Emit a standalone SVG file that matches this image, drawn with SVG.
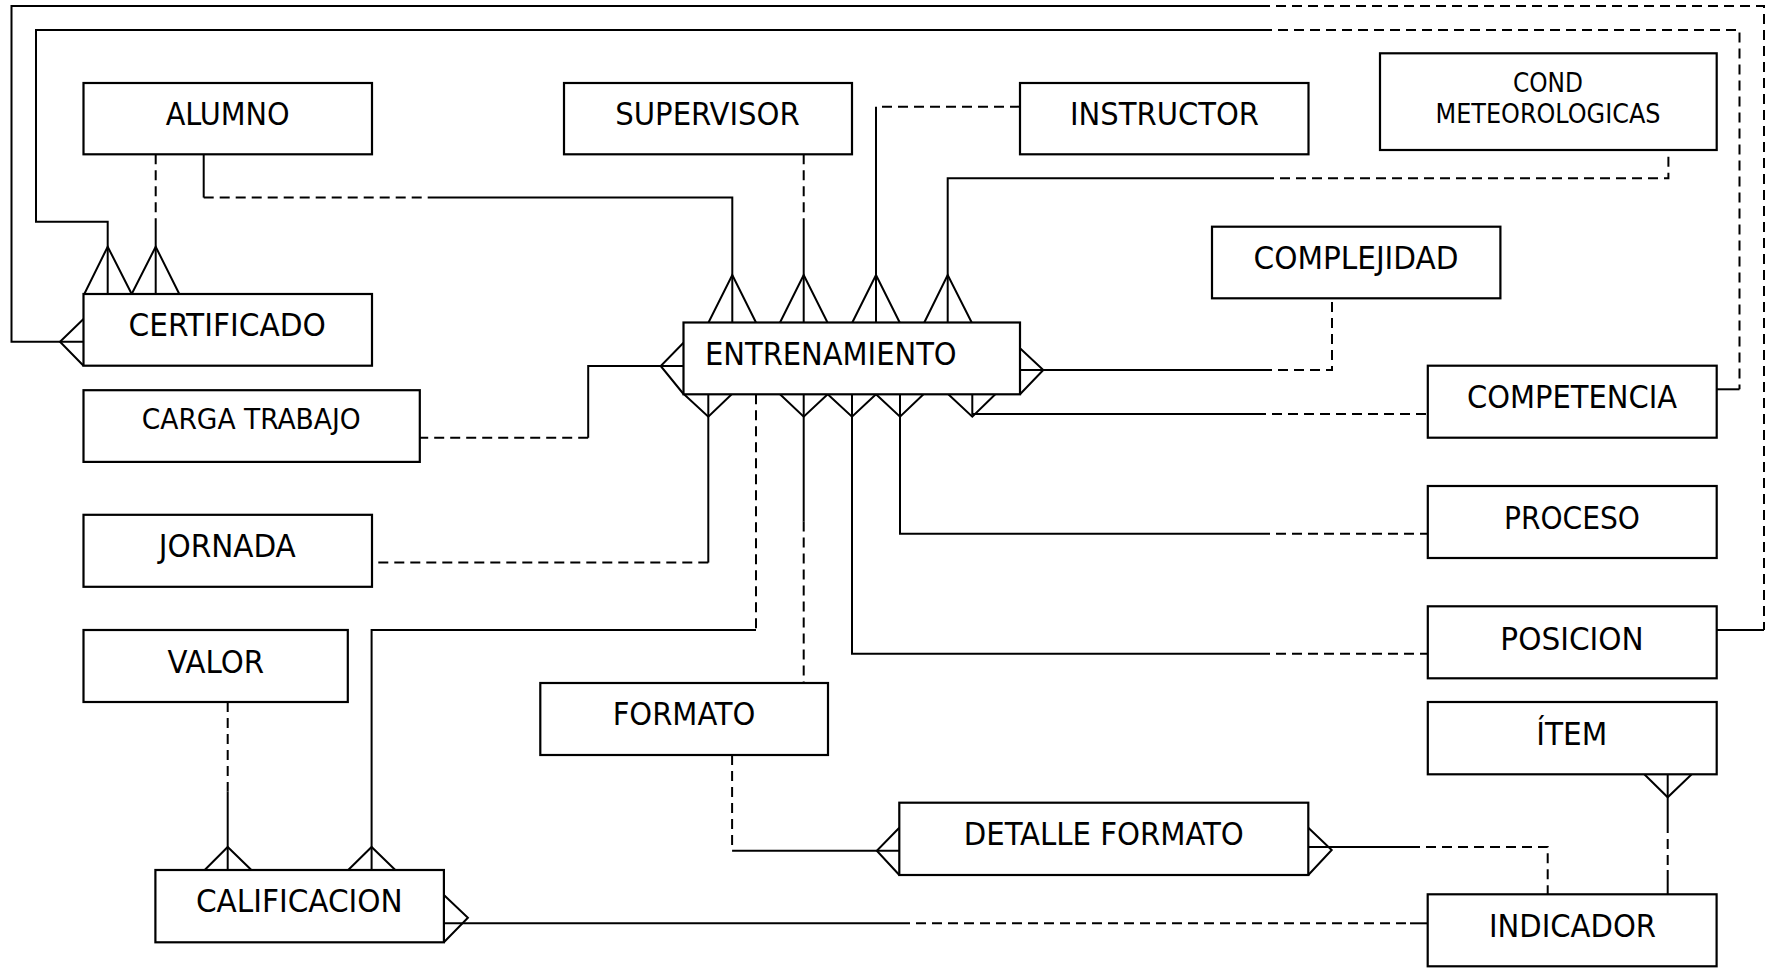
<svg xmlns="http://www.w3.org/2000/svg" width="1776" height="972" viewBox="0 0 1776 972">
  <style>
    .box { fill: #fff; stroke: #000; stroke-width: 2.2; }
    .ln { fill: none; stroke: #000; stroke-width: 2; stroke-linejoin: miter; }
    .dash { stroke-dasharray: 10 6; }
    .lbl { font-family: "DejaVu Sans Condensed", "DejaVu Sans", sans-serif; font-stretch: condensed; font-size: 32px; text-anchor: middle; fill: #000; }
    .sm { font-size: 26px; }
    .md { font-size: 28.5px; }
  </style>
  <rect width="1776" height="972" fill="#fff"/>

  <g id="connectors">
    <!-- CERTIFICADO - POSICION (outer loop) -->
    <path class="ln" d="M83.5,341.7 H11.5 V6 H1260"/>
    <path class="ln dash" d="M1260,6 H1764 V630"/>
    <path class="ln" d="M1764,630 H1716.5"/>
    <path class="ln" d="M83.5,319 L60,341.7 L83.5,365.7"/>

    <!-- CERTIFICADO - COMPETENCIA (inner loop) -->
    <path class="ln" d="M107.7,294 V221.7 H36 V30 H1262"/>
    <path class="ln dash" d="M1262,30 H1739.5 V389.3"/>
    <path class="ln" d="M1739.5,389.3 H1716.5"/>
    <path class="ln" d="M84.3,294 L107.7,246.7 L131.7,294"/>

    <!-- ALUMNO - CERTIFICADO -->
    <path class="ln dash" d="M155.7,154.3 V220"/>
    <path class="ln" d="M155.7,220 V294"/>
    <path class="ln" d="M131.7,294 L155.7,246.7 L179.3,294"/>

    <!-- ALUMNO - ENTRENAMIENTO -->
    <path class="ln" d="M203.7,154.3 V197.6"/>
    <path class="ln dash" d="M203.7,197.6 H436"/>
    <path class="ln" d="M436,197.6 H732.3 V322.5"/>
    <path class="ln" d="M708.5,322.5 L732.3,275 L756,322.5"/>

    <!-- SUPERVISOR - ENTRENAMIENTO -->
    <path class="ln dash" d="M803.7,154.3 V227"/>
    <path class="ln" d="M803.7,227 V322.5"/>
    <path class="ln" d="M780,322.5 L803.7,275 L827.5,322.5"/>

    <!-- INSTRUCTOR - ENTRENAMIENTO -->
    <path class="ln dash" d="M1020,106.7 H876"/>
    <path class="ln" d="M876,106.7 V322.5"/>
    <path class="ln" d="M852.3,322.5 L876,275 L899.7,322.5"/>

    <!-- COND METEOROLOGICAS - ENTRENAMIENTO -->
    <path class="ln" d="M947.7,322.5 V178.3 H1264"/>
    <path class="ln dash" d="M1264,178.3 H1668.4 V152"/>
    <path class="ln" d="M924.3,322.5 L947.7,275 L971.7,322.5"/>

    <!-- COMPLEJIDAD - ENTRENAMIENTO -->
    <path class="ln" d="M1020,348.3 L1043.3,370 L1020,394.3"/>
    <path class="ln" d="M1020,370 H1262"/>
    <path class="ln dash" d="M1262,370 H1332 V298.3"/>

    <!-- CARGA TRABAJO - ENTRENAMIENTO -->
    <path class="ln" d="M683.5,342.7 L660.7,366 L683.5,394"/>
    <path class="ln" d="M683.5,366 H588.2 V437.7"/>
    <path class="ln dash" d="M588.2,437.7 H420"/>

    <!-- JORNADA - ENTRENAMIENTO -->
    <path class="ln" d="M684,394.3 L708.3,416.7 L731.7,394.3"/>
    <path class="ln" d="M708.3,394.3 V562.6"/>
    <path class="ln dash" d="M708.3,562.6 H372"/>

    <!-- CALIFICACION - ENTRENAMIENTO -->
    <path class="ln dash" d="M756,394.3 V629.9"/>
    <path class="ln" d="M756,629.9 H371.6 V870"/>
    <path class="ln" d="M348.2,870 L371.6,847 L395.3,870"/>

    <!-- VALOR - CALIFICACION -->
    <path class="ln dash" d="M227.7,702 V791.5"/>
    <path class="ln" d="M227.7,791.5 V870"/>
    <path class="ln" d="M204.7,870 L227.7,847 L251.4,870"/>

    <!-- FORMATO - ENTRENAMIENTO -->
    <path class="ln" d="M780,394.3 L803.7,416.7 L827.7,394.3"/>
    <path class="ln" d="M803.7,394.3 V521.6"/>
    <path class="ln dash" d="M803.7,521.6 V683"/>

    <!-- POSICION - ENTRENAMIENTO -->
    <path class="ln" d="M827.7,394.3 L852,416.7 L876,394.3"/>
    <path class="ln" d="M852,394.3 V653.7 H1260"/>
    <path class="ln dash" d="M1260,653.7 H1427.8"/>

    <!-- PROCESO - ENTRENAMIENTO -->
    <path class="ln" d="M876,394.3 L900,416.7 L923.5,394.3"/>
    <path class="ln" d="M900,394.3 V533.7 H1260"/>
    <path class="ln dash" d="M1260,533.7 H1427.8"/>

    <!-- COMPETENCIA - ENTRENAMIENTO -->
    <path class="ln" d="M948.3,394.3 L972.3,416.7 L995.3,394.3"/>
    <path class="ln" d="M972.3,394.3 V414 H1256"/>
    <path class="ln dash" d="M1256,414 H1427.8"/>

    <!-- FORMATO - DETALLE FORMATO -->
    <path class="ln dash" d="M732.1,755 V850.7"/>
    <path class="ln" d="M732.1,850.7 H899.3"/>
    <path class="ln" d="M899.3,827.7 L876.8,850.7 L899.3,875"/>

    <!-- DETALLE FORMATO - INDICADOR -->
    <path class="ln" d="M1308.3,827.7 L1331.7,850 L1308.3,875"/>
    <path class="ln" d="M1308.3,847 H1410"/>
    <path class="ln dash" d="M1410,847 H1547.7 V894.3"/>

    <!-- ITEM - INDICADOR -->
    <path class="ln" d="M1644.3,774.3 L1667.7,797.3 L1691.7,774.3"/>
    <path class="ln" d="M1667.7,774.3 V823"/>
    <path class="ln dash" d="M1667.7,823 V870"/>
    <path class="ln" d="M1667.7,870 V894.3"/>

    <!-- CALIFICACION - INDICADOR -->
    <path class="ln" d="M443.9,895 L467.9,917.7 L443.9,942.3"/>
    <path class="ln" d="M443.9,923.3 H900"/>
    <path class="ln dash" d="M900,923.3 H1410"/>
    <path class="ln" d="M1410,923.3 H1427.7"/>
  </g>

  <g id="alumno"><rect class="box" x="83.5" y="83" width="288.5" height="71.3"/><text class="lbl" x="227.7" y="125" textLength="124" lengthAdjust="spacingAndGlyphs">ALUMNO</text></g>
  <g id="supervisor"><rect class="box" x="564" y="83" width="288" height="71.3"/><text class="lbl" x="707.5" y="125" textLength="184.5" lengthAdjust="spacingAndGlyphs">SUPERVISOR</text></g>
  <g id="instructor"><rect class="box" x="1020" y="83" width="288.5" height="71.3"/><text class="lbl" x="1164.5" y="125" textLength="189" lengthAdjust="spacingAndGlyphs">INSTRUCTOR</text></g>
  <g id="cond-meteorologicas"><rect class="box" x="1380" y="53.3" width="336.7" height="96.7"/><text class="lbl sm" x="1548" y="91.7" textLength="70" lengthAdjust="spacingAndGlyphs">COND</text><text class="lbl sm" x="1548" y="123.3" textLength="225" lengthAdjust="spacingAndGlyphs">METEOROLOGICAS</text></g>
  <g id="complejidad"><rect class="box" x="1212" y="226.7" width="288.4" height="71.6"/><text class="lbl" x="1356" y="269.3" textLength="205" lengthAdjust="spacingAndGlyphs">COMPLEJIDAD</text></g>
  <g id="certificado"><rect class="box" x="83.5" y="294" width="288.5" height="71.7"/><text class="lbl" x="227.2" y="335.5" textLength="197.5" lengthAdjust="spacingAndGlyphs">CERTIFICADO</text></g>
  <g id="entrenamiento"><rect class="box" x="683.5" y="322.5" width="336.5" height="71.8"/><text class="lbl" x="830.8" y="365" textLength="251.7" lengthAdjust="spacingAndGlyphs">ENTRENAMIENTO</text></g>
  <g id="competencia"><rect class="box" x="1427.8" y="365.7" width="288.9" height="72"/><text class="lbl" x="1572" y="408.3" textLength="210" lengthAdjust="spacingAndGlyphs">COMPETENCIA</text></g>
  <g id="carga-trabajo"><rect class="box" x="83.5" y="390.2" width="336.3" height="71.7"/><text class="lbl md" x="251.2" y="429" textLength="219" lengthAdjust="spacingAndGlyphs">CARGA TRABAJO</text></g>
  <g id="jornada"><rect class="box" x="83.5" y="514.8" width="288.5" height="72"/><text class="lbl" x="227.3" y="557.4" textLength="137" lengthAdjust="spacingAndGlyphs">JORNADA</text></g>
  <g id="proceso"><rect class="box" x="1427.8" y="486" width="288.9" height="72"/><text class="lbl" x="1572" y="529.2" textLength="136" lengthAdjust="spacingAndGlyphs">PROCESO</text></g>
  <g id="valor"><rect class="box" x="83.5" y="630" width="264.3" height="72"/><text class="lbl" x="215.8" y="672.6" textLength="96.4" lengthAdjust="spacingAndGlyphs">VALOR</text></g>
  <g id="posicion"><rect class="box" x="1427.8" y="606.3" width="288.9" height="72"/><text class="lbl" x="1572" y="649.5" textLength="143.3" lengthAdjust="spacingAndGlyphs">POSICION</text></g>
  <g id="formato"><rect class="box" x="540.3" y="683" width="287.7" height="72"/><text class="lbl" x="684" y="725.4" textLength="142.7" lengthAdjust="spacingAndGlyphs">FORMATO</text></g>
  <g id="item"><rect class="box" x="1427.8" y="702" width="288.9" height="72.3"/><text class="lbl" x="1571.7" y="745.2" textLength="71" lengthAdjust="spacingAndGlyphs">ÍTEM</text></g>
  <g id="detalle-formato"><rect class="box" x="899.3" y="802.7" width="409" height="72.3"/><text class="lbl" x="1103.8" y="845" textLength="280" lengthAdjust="spacingAndGlyphs">DETALLE FORMATO</text></g>
  <g id="calificacion"><rect class="box" x="155.4" y="870" width="288.5" height="72.3"/><text class="lbl" x="299.3" y="912.3" textLength="206.7" lengthAdjust="spacingAndGlyphs">CALIFICACION</text></g>
  <g id="indicador"><rect class="box" x="1427.7" y="894.3" width="288.9" height="72"/><text class="lbl" x="1572.5" y="936.5" textLength="167" lengthAdjust="spacingAndGlyphs">INDICADOR</text></g>
</svg>
